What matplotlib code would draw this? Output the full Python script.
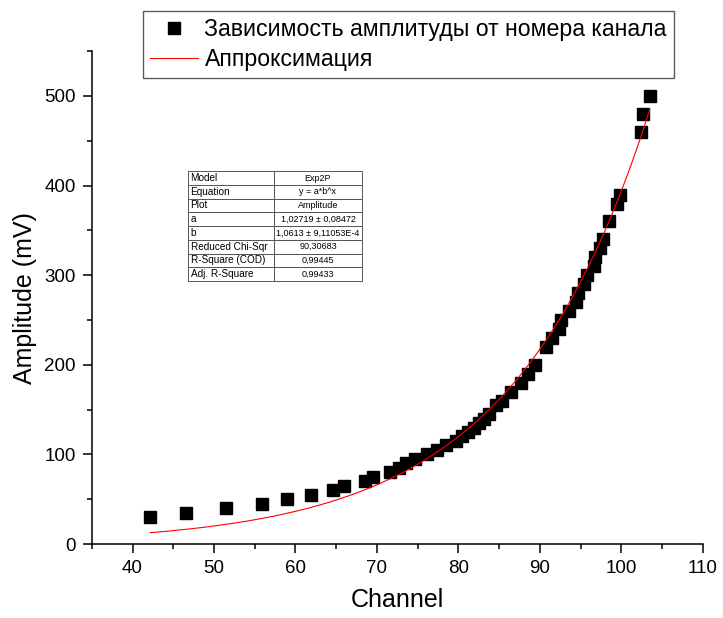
import numpy as np
import matplotlib
matplotlib.use('Agg')
import matplotlib.pyplot as plt
from matplotlib.ticker import MultipleLocator

plt.rcParams['font.family'] = ['Liberation Sans', 'DejaVu Sans']

# Measured points (channel number, amplitude in mV)
channel = [42.2, 46.6, 51.5, 55.9, 59.0, 61.9, 64.6, 66.0, 68.5, 69.5,
           71.6, 72.7, 73.6, 74.7, 76.2, 77.4, 78.5, 79.7, 80.5, 81.2,
           81.9, 82.5, 83.2, 83.7, 84.6, 85.4, 86.5, 87.7, 88.5, 89.4,
           90.8, 91.5, 92.3, 92.6, 93.6, 94.5, 94.7, 95.4, 95.8, 96.6,
           96.8, 97.4, 97.8, 98.55, 99.5, 99.8, 102.4, 102.7, 103.5]
amplitude = [30, 35, 40, 45, 50, 55, 60, 65, 70, 75,
             80, 85, 90, 95, 100, 105, 110, 115, 120, 125,
             130, 135, 140, 145, 155, 160, 170, 180, 190, 200,
             220, 230, 240, 250, 260, 270, 280, 290, 300, 310,
             320, 330, 340, 360, 380, 390, 460, 480, 500]

# Fit parameters Exp2P: y = a*b^x
a = 1.02719
b = 1.0613

table_rows = [
    ["Model", "Exp2P"],
    ["Equation", "y = a*b^x"],
    ["Plot", "Amplitude"],
    ["a", "1,02719 \u00b1 0,08472"],
    ["b", "1,0613 \u00b1 9,11053E-4"],
    ["Reduced Chi-Sqr", "90,30683"],
    ["R-Square (COD)", "0,99445"],
    ["Adj. R-Square", "0,99433"],
]

fig = plt.figure(figsize=(7.23, 6.18), dpi=100)
ax = fig.add_axes([0.127, 0.1197, 0.845, 0.7975])

x_fit = np.linspace(min(channel), max(channel), 300)
y_fit = a * b ** x_fit

ax.plot(channel, amplitude, 's', color='black', markersize=8, linestyle='none',
        label='Зависимость амплитуды от номера канала')
ax.plot(x_fit, y_fit, color='red', linewidth=0.8, label='Аппроксимация')

ax.set_xlim(35, 110)
ax.set_ylim(0, 550)
ax.xaxis.set_major_locator(MultipleLocator(10))
ax.xaxis.set_minor_locator(MultipleLocator(5))
ax.yaxis.set_major_locator(MultipleLocator(100))
ax.yaxis.set_minor_locator(MultipleLocator(50))

ax.spines['top'].set_visible(False)
ax.spines['right'].set_visible(False)
for s in ['left', 'bottom']:
    ax.spines[s].set_linewidth(1.1)
ax.tick_params(which='major', direction='out', length=6.5, width=1.1,
               labelsize=13.5, pad=5)
ax.tick_params(which='minor', direction='out', length=3.6, width=1.1)

ax.set_xlabel('Channel', fontsize=18, labelpad=8)
ax.set_ylabel('Amplitude (mV)', fontsize=18, labelpad=5)

leg = fig.legend(loc='upper left', bbox_to_anchor=(143 / 723, 1 - 11 / 618),
                 fontsize=16.7, frameon=True, fancybox=False, borderpad=0.3,
                 handlelength=2.05, handletextpad=0.3, labelspacing=0.3,
                 borderaxespad=0)
leg.get_frame().set_edgecolor('#333333')
leg.get_frame().set_linewidth(1.0)

# table: 188..362 px wide, 171..281 px high
tab = ax.table(cellText=table_rows, colWidths=[86, 88],
               bbox=[0.1575, 0.5335, 0.2846, 0.2231])
tab.auto_set_font_size(False)
tab.set_fontsize(7.2)
for (r, c), cell in tab.get_celld().items():
    cell.set_edgecolor('#555555')
    cell.set_linewidth(0.7)
    cell.PAD = 0.03
    if c == 0:
        cell.get_text().set_ha('left')
    else:
        cell.get_text().set_ha('center')
        cell.get_text().set_fontsize(6.5)

fig.savefig('out.png', dpi=100)
